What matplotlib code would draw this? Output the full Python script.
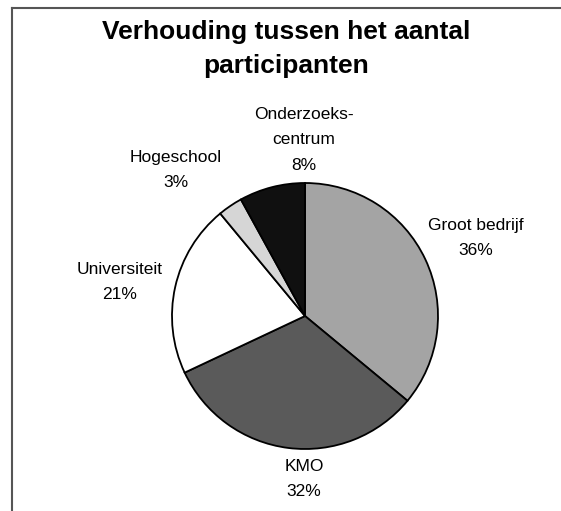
import matplotlib
matplotlib.use("Agg")
import matplotlib.pyplot as plt
from matplotlib.lines import Line2D

# Data (clockwise from 12 o'clock)
categories = ['Groot bedrijf', 'KMO', 'Universiteit', 'Hogeschool', 'Onderzoeks-\ncentrum']
shares     = [36, 32, 21, 3, 8]
colors     = ['#a4a4a4', '#5a5a5a', '#ffffff', '#d6d6d6', '#101010']

TITLE = "Verhouding tussen het aantal\nparticipanten"

# label centres in pixels (x, y from top) for each category
LABEL_POS = [(476, 238), (304, 479), (120, 282), (176, 170), (304, 140)]

W, H = 561, 511
plt.rcParams['font.family'] = ['Liberation Sans', 'DejaVu Sans']

fig = plt.figure(figsize=(W / 100, H / 100), dpi=100)

# pie placed so centre ~ (305, 316) px, radius ~133 px
cx, cy, r = 305, 316, 133
ax = fig.add_axes([(cx - r) / W, (H - cy - r) / H, 2 * r / W, 2 * r / H])
ax.pie(shares, colors=colors, startangle=90, counterclock=False,
       wedgeprops=dict(edgecolor='black', linewidth=1.3))
ax.set_xlim(-1, 1)
ax.set_ylim(-1, 1)
ax.set_aspect('equal')
ax.axis('off')

for cat, val, (px, py) in zip(categories, shares, LABEL_POS):
    fig.text(px / W, 1 - py / H, f"{cat}\n{val}%", ha='center', va='center',
             fontsize=12.5, linespacing=1.85, multialignment='center')

fig.text(286 / W, 1 - 49 / H, TITLE, ha='center', va='center',
         fontsize=19, fontweight='bold', linespacing=1.55)

# frame lines (top and left only, as in the scan)
fig.add_artist(Line2D([12 / W, 1], [1 - 8 / H, 1 - 8 / H], color='#555555', lw=1.5))
fig.add_artist(Line2D([12 / W, 12 / W], [0, 1 - 8 / H], color='#555555', lw=1.5))

fig.savefig("out.png", dpi=100)
